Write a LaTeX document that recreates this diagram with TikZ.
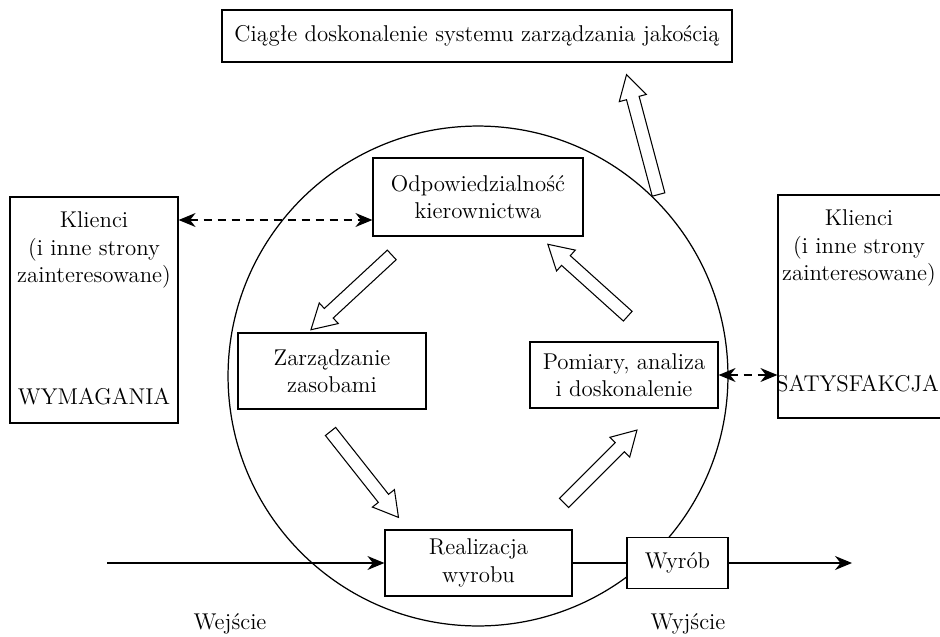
\documentclass[tikz,border=0pt]{standalone}
\usepackage{fontspec}
\usetikzlibrary{arrows.meta, positioning, shapes.arrows, calc}
\newcommand{\fs}{\fontsize{13}{15.5}\selectfont}
\tikzset{
  every picture/.style={line width=0.7pt, x=0.02cm, y=-0.02cm},
  box/.style={draw, fill=white, align=center, inner sep=0pt, font=\fs},
  txt/.style={align=center, inner sep=0pt, font=\fs},
  hollow/.style={single arrow, draw, fill=white, inner sep=0.12cm, single arrow head extend=0.15cm, single arrow tip angle=60, sloped, allow upside down, line width=0.6pt},
  dasharrow/.style={{Stealth[length=3.4mm, width=2.8mm]}-{Stealth[length=3.4mm, width=2.8mm]}, dash pattern=on 1.6mm off 1.2mm},
  flow/.style={-{Stealth[length=3.4mm, width=2.8mm]}},
}

\begin{document}
\begin{tikzpicture}
  \useasboundingbox (0,0) rectangle (940,636);
  \clip (0,0) rectangle (940,636);
  % process loop
  \node[circle, draw, minimum size=10cm, inner sep=0pt] (cyc) at (478,376) {};
  % hollow arrows between the steps
  \foreach \tx/\ty/\hx/\hy [count=\i] in {396/251/315/326, 327/427/395/513, 560/507/633/434, 632/320/552/248, 660/200/628/80} {
    \coordinate (t\i) at (\tx,\ty);
    \coordinate (h\i) at (\hx,\hy);
    \path let \p1=($(h\i)-(t\i)$) in (t\i) -- (h\i) node[hollow, midway, minimum height={veclen(\x1,\y1)}] (ar\i) {};
  }
  \node[box, minimum width=10.2cm, minimum height=1.04cm] (ciag) at (477,36) {Ciągłe doskonalenie systemu zarządzania jakością};
  \node[box, minimum width=4.2cm, minimum height=1.56cm] (odp) at (478,197) {Odpowiedzialność\\kierownictwa};
  \node[box, minimum width=3.76cm, minimum height=1.52cm] (zas) at (332,371) {Zarządzanie\\zasobami};
  \node[box, minimum width=3.76cm, minimum height=1.32cm] (pom) at (624,375) {Pomiary, analiza\\i doskonalenie};
  \node[box, minimum width=3.74cm, minimum height=1.32cm] (real) at (478.5,563) {Realizacja\\wyrobu};
  \node[box, minimum width=2.02cm, minimum height=1.02cm] (wyrob) at (677.5,563) {Wyrób};
  % customers
  \node[box, minimum width=3.36cm, minimum height=4.52cm] (kL) at (94,310) {};
  \node[txt, below=0.3cm of kL.north] (kLt) {Klienci\\(i inne strony\\zainteresowane)};
  \node[txt, above=0.36cm of kL.south] (wym) {WYMAGANIA};
  \node[box, minimum width=3.36cm, minimum height=4.46cm] (kR) at (862,306.5) {};
  \node[txt, below=0.3cm of kR.north, xshift=-0.06cm] (kRt) {Klienci\\(i inne strony\\zainteresowane)};
  \node[txt, above=0.52cm of kR.south, xshift=-0.09cm] (sat) {SATYSFAKCJA};
  % links
  \coordinate (dL) at ([yshift=-0.46cm]odp.west);
  \draw[dasharrow] (kL.east |- dL) -- (dL);
  \draw[dasharrow] (pom.east) -- (kR.west |- pom.east);
  \coordinate (in) at (107,563);
  \coordinate (out) at (852,563);
  \draw[flow] (in) -- (real.west);
  \draw (real.east) -- (wyrob.west);
  \draw[flow] (wyrob.east) -- (out);
  \node[txt] (wej) at (230,624) {Wejście};
  \node[txt] (wyj) at (688,624) {Wyjście};
\end{tikzpicture}
\end{document}
